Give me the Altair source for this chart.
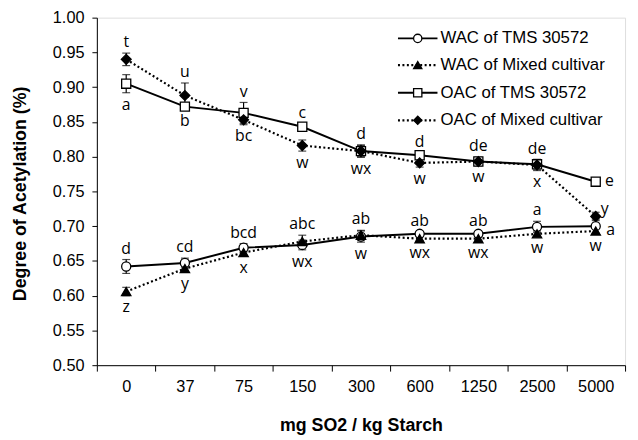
import altair as alt
import pandas as pd

doses = ["0", "37", "75", "150", "300", "600", "1250", "2500", "5000"]
series_names = ["WAC of TMS 30572", "WAC of Mixed cultivar",
                "OAC of TMS 30572", "OAC of Mixed cultivar"]
groups = ["WAC", "WAC", "OAC", "OAC"]

wac_tms = [0.642, 0.647, 0.669, 0.673, 0.685, 0.689, 0.689, 0.699, 0.700]
wac_tms_sd = [0.010, 0.007, 0.006, 0.007, 0.008, 0.003, 0.003, 0.008, 0.010]
wac_mix = [0.606, 0.639, 0.662, 0.678, 0.687, 0.682, 0.682, 0.689, 0.693]
wac_mix_sd = [0.006, 0.005, 0.005, 0.009, 0.007, 0.003, 0.003, 0.004, 0.004]
oac_tms = [0.905, 0.872, 0.863, 0.843, 0.808, 0.802, 0.793, 0.789, 0.764]
oac_tms_sd = [0.013, 0.004, 0.015, 0.004, 0.008, 0.003, 0.004, 0.007, 0.004]
oac_mix = [0.940, 0.888, 0.853, 0.816, 0.808, 0.791, 0.793, 0.788, 0.714]
oac_mix_sd = [0.009, 0.018, 0.007, 0.008, 0.009, 0.006, 0.006, 0.008, 0.006]

wac_tms_letters = ["d", "cd", "bcd", "abc", "ab", "ab", "ab", "a", "a"]
wac_mix_letters = ["z", "y", "x", "wx", "w", "wx", "wx", "w", "w"]
oac_tms_letters = ["a", "b", "bc", "c", "d", "d", "de", "de", "e"]
oac_mix_letters = ["t", "u", "v", "w", "wx", "w", "w", "x", "y"]

wac_tms_place = ["above"] * 8 + ["lowright"]
wac_mix_place = ["below"] * 9
oac_tms_place = ["below"] * 3 + ["above"] * 5 + ["right"]
oac_mix_place = ["above"] * 3 + ["below"] * 5 + ["upright"]

y_ticks = [0.50, 0.55, 0.60, 0.65, 0.70, 0.75, 0.80, 0.85, 0.90, 0.95, 1.00]

values = [wac_tms, wac_mix, oac_tms, oac_mix]
sds = [wac_tms_sd, wac_mix_sd, oac_tms_sd, oac_mix_sd]
letters = [wac_tms_letters, wac_mix_letters, oac_tms_letters, oac_mix_letters]
places = [wac_tms_place, wac_mix_place, oac_tms_place, oac_mix_place]

rows = []
for s, name in enumerate(series_names):
    for i, d in enumerate(doses):
        v, e = values[s][i], sds[s][i]
        rows.append(dict(dose=d, series=name, group=groups[s], value=v, sd=e,
                         lo=v - e, hi=v + e, letter=letters[s][i], place=places[s][i]))
df = pd.DataFrame(rows)
top = df.groupby(["dose", "group"])["hi"].transform("max")
bot = df.groupby(["dose", "group"])["lo"].transform("min")
df["anchor"] = df["value"]
df.loc[df["place"] == "above", "anchor"] = top[df["place"] == "above"]
df.loc[df["place"] == "below", "anchor"] = bot[df["place"] == "below"]

W, H = 535, 352

xenc = alt.X("dose:N", sort=doses, bandPosition=0.5,
             scale=alt.Scale(type="band", paddingInner=0, paddingOuter=0),
             axis=alt.Axis(title="mg SO2 / kg Starch", labelAngle=0, tickBand="extent",
                           tickSize=6, labelPadding=8, labelFontSize=16.5,
                           labelFont="Liberation Sans", labelColor="black",
                           titleFont="Liberation Sans", titleFontSize=18, titleFontWeight="bold",
                           titleColor="black", titleY=61, titleBaseline="middle",
                           domainColor="black", tickColor="black", grid=False))
yscale = alt.Scale(domain=[0.5, 1.0], nice=False, zero=False)
yaxis = alt.Axis(title="Degree of Acetylation (%)", format=".2f",
                 values=y_ticks, labelOverlap=False, labelFlush=False,
                 tickSize=5, labelPadding=8, labelFontSize=16.5,
                 labelFont="Liberation Sans", labelColor="black",
                 titleFont="Liberation Sans", titleFontSize=18, titleFontWeight="bold",
                 titleColor="black", titleX=-77, titleY=178, titleAngle=-90,
                 titleBaseline="middle", titleAlign="center",
                 domainColor="black", tickColor="black", grid=False)


def yf(field):
    return alt.Y(field, scale=yscale, axis=yaxis, title="Degree of Acetylation (%)")


base = alt.Chart(df)
solid = ["WAC of TMS 30572", "OAC of TMS 30572"]
dotted = ["WAC of Mixed cultivar", "OAC of Mixed cultivar"]

layers = []
for name in solid:
    layers.append(base.transform_filter(alt.datum.series == name)
                  .mark_line(color="black", strokeWidth=2)
                  .encode(x=xenc, y=yf("value:Q")))
for name in dotted:
    layers.append(base.transform_filter(alt.datum.series == name)
                  .mark_line(color="black", strokeWidth=2.2, strokeDash=[2, 2.5])
                  .encode(x=xenc, y=yf("value:Q")))

layers.append(base.mark_rule(color="black", strokeWidth=1.2).encode(
    x=xenc, y=yf("lo:Q"), y2="hi:Q"))
layers.append(base.mark_tick(color="black", thickness=1.2, size=8, orient="horizontal").encode(
    x=xenc, y=yf("lo:Q")))
layers.append(base.mark_tick(color="black", thickness=1.2, size=8, orient="horizontal").encode(
    x=xenc, y=yf("hi:Q")))

marker = {"WAC of TMS 30572": ("circle", "white", 85),
          "OAC of TMS 30572": ("square", "white", 85),
          "WAC of Mixed cultivar": ("triangle-up", "black", 90),
          "OAC of Mixed cultivar": ("diamond", "black", 100)}
for name in ["WAC of TMS 30572", "OAC of TMS 30572", "WAC of Mixed cultivar", "OAC of Mixed cultivar"]:
    shp, fill, sz = marker[name]
    layers.append(base.transform_filter(alt.datum.series == name)
                  .mark_point(shape=shp, fill=fill, stroke="black", strokeWidth=1.3,
                              filled=False, fillOpacity=1, opacity=1, size=sz)
                  .encode(x=xenc, y=yf("value:Q")))

txt_common = dict(font="Open Sans", fontSize=16, color="black", baseline="alphabetic")
place_style = {"above": dict(dy=-6, dx=0, align="center"),
               "below": dict(dy=17, dx=0, align="center"),
               "right": dict(dy=4, dx=14, align="center"),
               "lowright": dict(dy=9, dx=15, align="center"),
               "upright": dict(dy=-2, dx=9, align="center")}
for p, st in place_style.items():
    layers.append(base.transform_filter(alt.datum.place == p)
                  .mark_text(**txt_common, **st)
                  .encode(x=xenc, y=yf("anchor:Q"), text="letter:N"))

# legend
leg_x0, leg_x1, leg_mx, leg_tx = 305, 345, 325, 348
leg_rows = [21, 48, 76, 104]
leg_style = [("circle", "white", False), ("triangle-up", "black", True),
             ("square", "white", False), ("diamond", "black", True)]
for i, name in enumerate(series_names):
    shp, fill, is_dot = leg_style[i]
    yy = leg_rows[i]
    rule_kw = dict(color="black", strokeWidth=2.2 if is_dot else 2)
    if is_dot:
        rule_kw["strokeDash"] = [2, 2.5]
    layers.append(alt.Chart(pd.DataFrame({"k": [0]})).mark_rule(**rule_kw).encode(
        x=alt.value(leg_x0), x2=alt.value(leg_x1), y=alt.value(yy)))
    layers.append(alt.Chart(pd.DataFrame({"k": [0]})).mark_point(
        shape=shp, fill=fill, stroke="black", strokeWidth=1.3, filled=False,
        fillOpacity=1, opacity=1, size=70).encode(x=alt.value(leg_mx), y=alt.value(yy)))
    layers.append(alt.Chart(pd.DataFrame({"t": [name]})).mark_text(
        align="left", baseline="middle", font="Liberation Sans", fontSize=17, color="black").encode(
        x=alt.value(leg_tx), y=alt.value(yy), text="t:N"))

chart = alt.layer(*layers).properties(
    width=W, height=H,
    autosize=alt.AutoSizeParams(type="none"),
    padding={"left": 90, "top": 7, "right": 5, "bottom": 73},
).configure_view(stroke="black", strokeWidth=1.2).configure(background="white")

chart.save("out.html", embed_options={"renderer": "svg", "actions": False})
